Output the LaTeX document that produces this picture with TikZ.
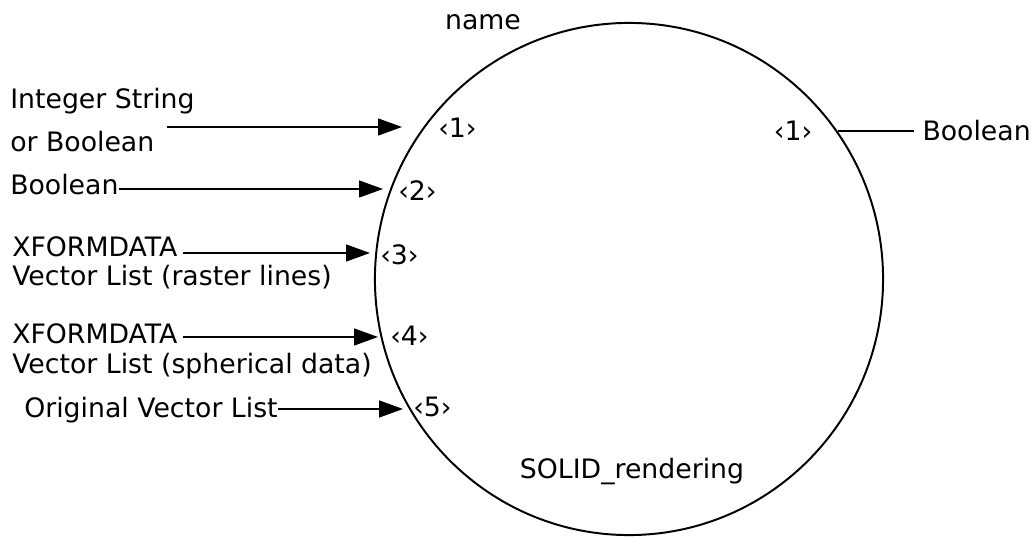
\documentclass[tikz,border=0pt]{standalone}
\usepackage{fontspec}
\setmainfont{DejaVu Sans}
\usepackage{tikz}
\usetikzlibrary{positioning,arrows.meta,shapes.geometric}
\tikzset{
    process/.style={
        ellipse,
        draw,
        line width=1.4pt,
        minimum width=12.7cm,
        minimum height=12.8cm,
        inner sep=0pt,
    },
    txt/.style={
        font=\fontsize{19}{22}\selectfont,
        inner sep=0pt,
        anchor=west,
    },
    port/.style={
        txt,
    },
    inarrow/.style={
        -{Triangle[length=17pt,width=12pt]},
        line width=1.1pt,
    },
    outline/.style={
        line width=1.1pt,
    },
}

\begin{document}
\begin{tikzpicture}[x=0.025cm, y=-0.025cm]
    \useasboundingbox (0,0) rectangle (1034,537);

    % Process
    \node[process] (solid) at (629,279) {};
    \node[txt, anchor=center] (name) at (483,22) {name};
    \node[txt, anchor=center] (title) at (632,472) {SOLID\_rendering};

    % Input labels
    \node[txt, align=left, font=\fontsize{19}{31}\selectfont] (intstr) at (10,120) {Integer String\\or Boolean};
    \node[txt] (boolin) at (10,185) {Boolean};
    \node[txt] (xform1) at (12,247) {XFORMDATA};
    \node[txt] (raster) at (12,277) {Vector List (raster lines)};
    \node[txt] (xform2) at (12,334) {XFORMDATA};
    \node[txt] (spher) at (12,366) {Vector List (spherical data)};
    \node[txt] (orig) at (24,410) {Original Vector List};

    % Ports
    \node[port] (p1) at (438,128) {‹1›};
    \node[port] (p2) at (398,191) {‹2›};
    \node[port] (p3) at (380,255) {‹3›};
    \node[port] (p4) at (390,336) {‹4›};
    \node[port] (p5) at (413,407) {‹5›};
    \node[port, anchor=center] (q1) at (793,131) {‹1›};

    % Output label
    \node[txt, anchor=east] (boolout) at (1031,131) {Boolean};

    % Arrow ends
    \coordinate (start1) at (167,127);
    \coordinate (tip1) at (402,127);
    \coordinate (tip2) at (383,189);
    \coordinate (tip3) at (370,253);
    \coordinate (tip4) at (378,337);
    \coordinate (tip5) at (403,409);

    % Connections
    \draw[inarrow] (start1) -- (tip1);
    \draw[inarrow] (boolin.east |- tip2) -- (tip2);
    \draw[inarrow] ([xshift=4pt]xform1.east |- tip3) -- (tip3);
    \draw[inarrow] ([xshift=4pt]xform2.east |- tip4) -- (tip4);
    \draw[inarrow] (orig.east |- tip5) -- (tip5);
    \draw[outline, shorten <=6pt] (boolout.west) -- (boolout.west -| solid.35);

\end{tikzpicture}
\end{document}
